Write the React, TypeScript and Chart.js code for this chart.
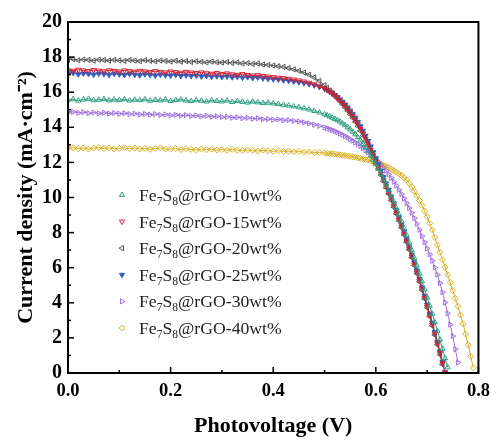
import React, { useEffect, useRef } from "react";
import { Chart, registerables } from "chart.js";

Chart.register(...registerables);

// Photovoltage (V): 0.01 V steps on the plateau, 0.005 V steps on the drop
const voltage = [
  0.0, 0.01, 0.02, 0.03, 0.04, 0.05, 0.06, 0.07, 0.08, 0.09,
  0.1, 0.11, 0.12, 0.13, 0.14, 0.15, 0.16, 0.17, 0.18, 0.19,
  0.2, 0.21, 0.22, 0.23, 0.24, 0.25, 0.26, 0.27, 0.28, 0.29,
  0.3, 0.31, 0.32, 0.33, 0.34, 0.35, 0.36, 0.37, 0.38, 0.39,
  0.4, 0.41, 0.42, 0.43, 0.44, 0.45, 0.46, 0.47, 0.48, 0.49,
  0.5, 0.505, 0.51, 0.515, 0.52, 0.525, 0.53, 0.535, 0.54, 0.545,
  0.55, 0.555, 0.56, 0.565, 0.57, 0.575, 0.58, 0.585, 0.59, 0.595,
  0.6, 0.605, 0.61, 0.615, 0.62, 0.625, 0.63, 0.635, 0.64, 0.645,
  0.65, 0.655, 0.66, 0.665, 0.67, 0.675, 0.68, 0.685, 0.69, 0.695,
  0.7, 0.705, 0.71, 0.715, 0.72, 0.725, 0.73, 0.735, 0.74, 0.745,
  0.75, 0.755, 0.76, 0.765, 0.77, 0.775, 0.78, 0.785, 0.79,
];

const seriesNames = ["10wt%", "15wt%", "20wt%", "25wt%", "30wt%", "40wt%"];

// Current density (mA·cm⁻²)
const j10 = [
  15.55, 15.6, 15.52, 15.58, 15.62, 15.54, 15.57, 15.6, 15.53, 15.58,
  15.55, 15.6, 15.52, 15.57, 15.54, 15.59, 15.51, 15.56, 15.53, 15.58,
  15.5, 15.55, 15.58, 15.52, 15.49, 15.54, 15.51, 15.47, 15.53, 15.5,
  15.47, 15.52, 15.44, 15.49, 15.45, 15.41, 15.46, 15.42, 15.38, 15.4,
  15.36, 15.32, 15.28, 15.24, 15.19, 15.14, 15.08, 15.01, 14.93, 14.84,
  14.74, 14.68, 14.62, 14.55, 14.48, 14.4, 14.32, 14.22, 14.12, 14.0,
  13.88, 13.74, 13.6, 13.43, 13.25, 13.05, 12.85, 12.63, 12.4, 12.15,
  11.9, 11.63, 11.35, 11.05, 10.75, 10.43, 10.1, 9.76, 9.4, 9.03,
  8.65, 8.25, 7.85, 7.43, 7.0, 6.56, 6.12, 5.67, 5.22, 4.76,
  4.3, 3.84, 3.37, 2.89, 2.4, 1.9, 1.38, 0.85, 0.32,
];

const j15 = [
  17.25, 17.22, 17.28, 17.24, 17.2, 17.26, 17.23, 17.19, 17.25, 17.21,
  17.18, 17.24, 17.2, 17.17, 17.22, 17.19, 17.15, 17.2, 17.16, 17.13,
  17.18, 17.14, 17.11, 17.16, 17.12, 17.09, 17.13, 17.08, 17.05, 17.09,
  17.04, 17.07, 17.02, 16.99, 17.03, 16.98, 16.95, 16.97, 16.92, 16.89,
  16.86, 16.83, 16.8, 16.76, 16.72, 16.67, 16.61, 16.54, 16.45, 16.34,
  16.22, 16.13, 16.03, 15.92, 15.8, 15.67, 15.53, 15.38, 15.22, 15.04,
  14.85, 14.64, 14.42, 14.18, 13.92, 13.65, 13.36, 13.05, 12.73, 12.4,
  12.06, 11.71, 11.36, 11.0, 10.64, 10.27, 9.9, 9.52, 9.13, 8.74,
  8.34, 7.93, 7.51, 7.08, 6.64, 6.19, 5.73, 5.26, 4.78, 4.29,
  3.79, 3.28, 2.76, 2.23, 1.69, 1.13, 0.56, 0.0,
];

const j20 = [
  17.85, 17.88, 17.82, 17.86, 17.84, 17.8, 17.85, 17.83, 17.8, 17.84,
  17.81, 17.78, 17.83, 17.8, 17.77, 17.82, 17.79, 17.76, 17.8, 17.78,
  17.75, 17.79, 17.74, 17.77, 17.72, 17.76, 17.73, 17.7, 17.74, 17.71,
  17.69, 17.72, 17.67, 17.7, 17.64, 17.66, 17.61, 17.63, 17.58, 17.55,
  17.52, 17.48, 17.44, 17.38, 17.3, 17.22, 17.12, 17.0, 16.84, 16.64,
  16.4, 16.25, 16.1, 15.95, 15.8, 15.64, 15.48, 15.31, 15.13, 14.94,
  14.74, 14.53, 14.3, 14.06, 13.8, 13.53, 13.24, 12.94, 12.62, 12.3,
  11.96, 11.62, 11.27, 10.92, 10.56, 10.2, 9.83, 9.45, 9.07, 8.68,
  8.28, 7.87, 7.45, 7.02, 6.58, 6.13, 5.67, 5.2, 4.72, 4.23,
  3.73, 3.22, 2.7, 2.16, 1.61, 1.05, 0.48,
];

const j25 = [
  17.05, 17.1, 17.02, 17.07, 17.04, 17.0, 17.06, 17.03, 16.99, 17.05,
  17.02, 16.98, 17.04, 17.0, 16.97, 17.02, 16.99, 16.95, 17.0, 16.97,
  16.95, 16.99, 16.93, 16.96, 16.92, 16.95, 16.9, 16.93, 16.88, 16.91,
  16.87, 16.9, 16.85, 16.88, 16.83, 16.86, 16.81, 16.84, 16.79, 16.76,
  16.74, 16.72, 16.68, 16.65, 16.61, 16.57, 16.52, 16.46, 16.39, 16.3,
  16.2, 16.12, 16.04, 15.94, 15.84, 15.72, 15.59, 15.45, 15.3, 15.13,
  14.95, 14.75, 14.54, 14.31, 14.06, 13.8, 13.52, 13.22, 12.91, 12.58,
  12.24, 11.89, 11.53, 11.17, 10.8, 10.43, 10.05, 9.66, 9.27, 8.87,
  8.46, 8.04, 7.62, 7.19, 6.75, 6.3, 5.84, 5.37, 4.89, 4.4,
  3.9, 3.39, 2.87, 2.33, 1.78, 1.22, 0.64, 0.06,
];

const j30 = [
  14.85, 14.88, 14.82, 14.86, 14.8, 14.84, 14.79, 14.83, 14.78, 14.81,
  14.77, 14.8, 14.75, 14.78, 14.73, 14.76, 14.72, 14.75, 14.7, 14.73,
  14.68, 14.71, 14.66, 14.69, 14.64, 14.67, 14.62, 14.65, 14.6, 14.63,
  14.58, 14.6, 14.55, 14.57, 14.52, 14.54, 14.49, 14.51, 14.46, 14.47,
  14.43, 14.45, 14.4, 14.41, 14.36, 14.33, 14.28, 14.22, 14.15, 14.08,
  13.99, 13.94, 13.89, 13.84, 13.78, 13.72, 13.65, 13.58, 13.5, 13.42,
  13.33, 13.24, 13.14, 13.04, 12.93, 12.82, 12.7, 12.58, 12.45, 12.33,
  12.2, 12.04, 11.88, 11.7, 11.52, 11.32, 11.12, 10.9, 10.68, 10.44,
  10.2, 9.94, 9.68, 9.4, 9.12, 8.82, 8.5, 8.16, 7.8, 7.45,
  7.1, 6.76, 6.4, 6.01, 5.6, 5.12, 4.6, 4.02, 3.4, 2.76,
  2.1, 1.36, 0.6,
];

const j40 = [
  12.8, 12.84, 12.78, 12.82, 12.76, 12.81, 12.85, 12.79, 12.83, 12.77,
  12.8, 12.84, 12.78, 12.82, 12.76, 12.8, 12.74, 12.79, 12.83, 12.77,
  12.75, 12.79, 12.73, 12.78, 12.74, 12.71, 12.76, 12.72, 12.75, 12.7,
  12.73, 12.69, 12.74, 12.7, 12.67, 12.71, 12.68, 12.65, 12.69, 12.66,
  12.63, 12.66, 12.62, 12.64, 12.6, 12.62, 12.58, 12.6, 12.56, 12.57,
  12.53, 12.52, 12.5, 12.49, 12.47, 12.45, 12.43, 12.41, 12.39, 12.37,
  12.34, 12.32, 12.29, 12.26, 12.23, 12.2, 12.16, 12.13, 12.09, 12.05,
  12.0, 11.95, 11.9, 11.84, 11.78, 11.71, 11.62, 11.53, 11.45, 11.35,
  11.25, 11.13, 11.0, 10.81, 10.6, 10.36, 10.1, 9.83, 9.55, 9.23,
  8.9, 8.53, 8.15, 7.73, 7.3, 6.88, 6.45, 6.03, 5.6, 5.15,
  4.7, 4.25, 3.8, 3.31, 2.8, 2.22, 1.6, 0.95, 0.3,
];

const xTicks = [0, 0.2, 0.4, 0.6, 0.8];
const yTicks = [0, 2, 4, 6, 8, 10, 12, 14, 16, 18, 20];

const colors = ["#2f9f80", "#d42030", "#555555", "#2f5fc0", "#a070e0", "#d8b020"];
const styles = ["triangle", "triangle", "triangle", "triangle", "triangle", "rectRot"];
const rotations = [0, 180, 270, 180, 90, 0];
const filled = [false, false, false, true, false, false];
const allSeries = [j10, j15, j20, j25, j30, j40];

const SERIF = "'Liberation Serif', 'Times New Roman', serif";

function drawMarker(ctx: CanvasRenderingContext2D, i: number, x: number, y: number, r: number) {
  ctx.save();
  ctx.translate(x, y);
  ctx.rotate((rotations[i] * Math.PI) / 180);
  ctx.beginPath();
  if (styles[i] === "rectRot") {
    ctx.moveTo(0, -r);
    ctx.lineTo(r, 0);
    ctx.lineTo(0, r);
    ctx.lineTo(-r, 0);
  } else {
    ctx.moveTo(0, -r);
    ctx.lineTo(r * 0.87, r * 0.5);
    ctx.lineTo(-r * 0.87, r * 0.5);
  }
  ctx.closePath();
  ctx.lineWidth = 1;
  ctx.strokeStyle = colors[i];
  ctx.fillStyle = filled[i] ? colors[i] : "#ffffff";
  ctx.fill();
  ctx.stroke();
  ctx.restore();
}

const framePlugin = {
  id: "frameTicks",
  afterDraw(chart: any) {
    const ctx: CanvasRenderingContext2D = chart.ctx;
    const { left, right, top, bottom } = chart.chartArea;
    const xs = chart.scales.x;
    const ys = chart.scales.y;
    ctx.save();
    ctx.strokeStyle = "#000";
    ctx.lineWidth = 1.5;
    for (let v = 0; v <= 8; v++) {
      const px = xs.getPixelForValue(v / 10);
      const len = v % 2 === 0 ? 6 : 3;
      ctx.beginPath();
      ctx.moveTo(px, bottom);
      ctx.lineTo(px, bottom - len);
      ctx.stroke();
    }
    for (let v = 0; v <= 20; v++) {
      const py = ys.getPixelForValue(v);
      const len = v % 2 === 0 ? 6 : 3;
      ctx.beginPath();
      ctx.moveTo(left, py);
      ctx.lineTo(left + len, py);
      ctx.stroke();
    }
    ctx.lineWidth = 2;
    ctx.strokeRect(left, top, right - left, bottom - top);

    // legend inside the plot
    const lx = 122;
    const tx = 139;
    const y0 = 195;
    const dy = 26.6;
    for (let i = 0; i < seriesNames.length; i++) {
      const y = y0 + i * dy;
      drawMarker(ctx, i, lx, y, 3);
      ctx.fillStyle = "#222";
      ctx.textBaseline = "alphabetic";
      ctx.textAlign = "left";
      const base = y + 6;
      let x = tx;
      const big = `17.7px ${SERIF}`;
      const small = `11.5px ${SERIF}`;
      const parts: [string, boolean][] = [
        ["Fe", false],
        ["7", true],
        ["S", false],
        ["8", true],
        ["@rGO-" + seriesNames[i], false],
      ];
      for (const [t, sub] of parts) {
        ctx.font = sub ? small : big;
        ctx.fillText(t, x, sub ? base + 4 : base);
        x += ctx.measureText(t).width;
      }
    }
    ctx.restore();
  },
};

export default function App() {
  const ref = useRef<HTMLCanvasElement | null>(null);
  useEffect(() => {
    if (!ref.current) return;
    const datasets = allSeries.map((arr, i) => ({
      label: "Fe7S8@rGO-" + seriesNames[i],
      data: arr.map((y, k) => ({ x: voltage[k], y })),
      borderColor: colors[i],
      backgroundColor: filled[i] ? colors[i] : "#ffffff",
      pointBackgroundColor: filled[i] ? colors[i] : "rgba(255,255,255,0)",
      pointBorderColor: colors[i],
      pointStyle: styles[i] as any,
      rotation: rotations[i],
      pointRadius: 3,
      pointBorderWidth: 1,
      borderWidth: 1,
      showLine: true,
      tension: 0,
    }));
    const chart = new Chart(ref.current, {
      type: "scatter",
      data: { datasets },
      plugins: [framePlugin],
      options: {
        animation: false,
        responsive: false,
        maintainAspectRatio: false,
        layout: { padding: { top: 22, right: 15, left: 0, bottom: 0 } },
        plugins: { legend: { display: false }, tooltip: { enabled: false } },
        scales: {
          x: {
            type: "linear",
            min: 0,
            max: 0.8,
            afterFit: (s: any) => {
              s.height = 75;
            },
            afterBuildTicks: (s: any) => {
              s.ticks = xTicks.map((v) => ({ value: v }));
            },
            grid: { display: false, drawTicks: false },
            border: { display: false },
            ticks: {
              padding: 7,
              color: "#000",
              font: { family: SERIF, size: 18.5, weight: "bold" },
              callback: (v: any) => Number(v).toFixed(1),
            },
            title: {
              display: true,
              text: "Photovoltage (V)",
              color: "#000",
              font: { family: SERIF, size: 22, weight: "bold" },
              padding: { top: 0, bottom: 8 },
            },
          },
          y: {
            type: "linear",
            min: 0,
            max: 20,
            afterFit: (s: any) => {
              s.width = 68;
            },
            afterBuildTicks: (s: any) => {
              s.ticks = yTicks.map((v) => ({ value: v }));
            },
            grid: { display: false, drawTicks: false },
            border: { display: false },
            ticks: {
              padding: 6,
              color: "#000",
              font: { family: SERIF, size: 20, weight: "bold" },
            },
            title: {
              display: true,
              text: "Current density (mA·cm⁻²)",
              color: "#000",
              font: { family: SERIF, size: 22, weight: "bold" },
              padding: { top: 13, bottom: 0 },
            },
          },
        },
      },
    });
    return () => chart.destroy();
  }, []);
  return (
    <div style={{ position: "fixed", left: 0, top: 0, width: 497, height: 448, background: "#fff" }}>
      <canvas ref={ref} width={497} height={448} style={{ width: 497, height: 448 }} />
    </div>
  );
}
